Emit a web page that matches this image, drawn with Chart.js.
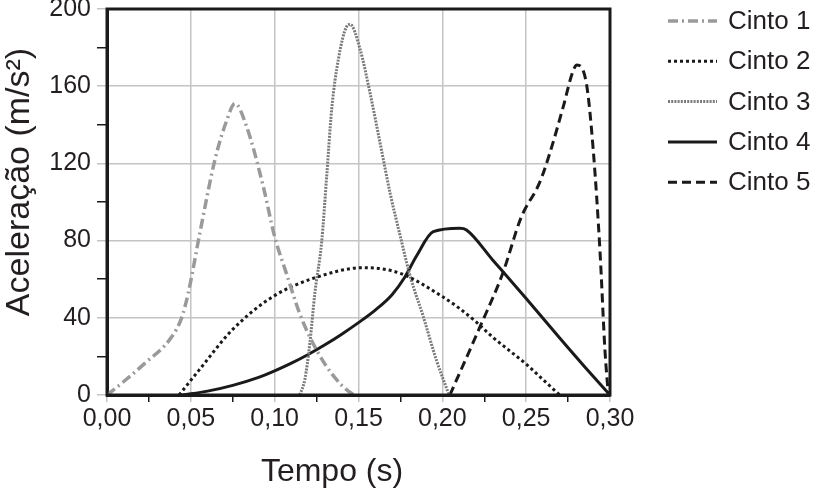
<!DOCTYPE html>
<html>
<head>
<meta charset="utf-8">
<script src="https://cdn.jsdelivr.net/npm/chart.js@4"></script>
<style>
  html,body{margin:0;padding:0;background:#fff;}
  #wrap{width:820px;height:499px;}
</style>
</head>
<body>
<div id="wrap"><canvas id="graficoCintos" width="820" height="499"></canvas></div>
<script>
// valores (tempo em s, aceleracao em m/s2)
const nomes=["Cinto 1","Cinto 2","Cinto 3","Cinto 4","Cinto 5"];

const cinto1X=[0,0.01,0.022,0.0385,0.0445,0.0485,0.0554,0.0644,0.0713,0.0763,0.0833,0.0932,0.100,0.107,0.115,0.121,0.13,0.14,0.147];
const cinto1Y=[0,7,16,30,40,53,84,122,142,151,139,108,82,63,42,30,16,5,0];

const cinto2X=[0.043,0.055,0.075,0.099,0.125,0.153,0.175,0.2,0.21,0.22,0.23,0.24,0.25,0.26,0.27];
const cinto2Y=[0,13,34,51,61,66,63,51,45,38,30,23,16,8,0];

const cinto3X=[0.115,0.118,0.121,0.124,0.128,0.131,0.134,0.138,0.143,0.145,0.151,0.157,0.163,0.169,0.175,0.181,0.1885,0.1965,0.204];
const cinto3Y=[0,8,27,53,79,113,148,174,191,192,179,156,130,104,82,61,41,18,0];

const cinto4X=[0.045,0.06,0.075,0.09,0.1,0.11,0.12,0.13,0.14,0.15,0.16,0.17,0.1776,0.1846,0.1946,0.2104,0.2144,0.23,0.25,0.27,0.285,0.3];
const cinto4Y=[0,2,5,9,12.5,16.5,21,26,31.5,37.5,44,52,61,72,84.6,86.4,85.5,70,50,29.5,14.5,0];

const cinto5X=[0.2045,0.2223,0.236,0.247,0.258,0.264,0.272,0.278,0.2803,0.286,0.290,0.294,0.297,0.299];
const cinto5Y=[0,35,63,92,110,125,149,168,171,161,127,75,23,0];

const ticksX=[0,0.05,0.10,0.15,0.20,0.25,0.30];
const ticksY=[0,40,80,120,160,200];

const fonte="'Liberation Sans', Arial, sans-serif";

function pontos(xs,ys){
  return xs.map((x,i)=>({x:x,y:ys[i]}));
}

function ehMaior(v,lista){
  return lista.some(t=>Math.abs(t-v)<1e-6);
}

// moldura, titulos dos eixos e legenda
const extras={
  id:"extras",
  afterDraw(chart){
    const ctx=chart.ctx;
    const a=chart.chartArea;
    ctx.save();
    ctx.strokeStyle="#1a1a1a";
    ctx.lineWidth=3;
    ctx.setLineDash([]);
    ctx.strokeRect(a.left,a.top,a.right-a.left,a.bottom-a.top);

    ctx.fillStyle="#231f20";
    ctx.font="32px "+fonte;
    ctx.textAlign="center";
    ctx.textBaseline="middle";
    ctx.fillText("Tempo (s)",332,472);

    ctx.save();
    ctx.translate(20,182);
    ctx.rotate(-Math.PI/2);
    ctx.font="34px "+fonte;
    ctx.fillText("Aceleração (m/s²)",0,0);
    ctx.restore();

    chart.data.datasets.forEach((ds,i)=>{
      const y=21+40.3*i;
      ctx.strokeStyle=ds.borderColor;
      ctx.lineWidth=ds.borderWidth;
      ctx.setLineDash(ds.borderDash||[]);
      ctx.beginPath();
      ctx.moveTo(668,y);
      ctx.lineTo(717,y);
      ctx.stroke();
      ctx.setLineDash([]);
      ctx.fillStyle="#231f20";
      ctx.font="26px "+fonte;
      ctx.textAlign="left";
      ctx.textBaseline="middle";
      ctx.fillText(ds.label,728,y+1);
    });
    ctx.restore();
  }
};

new Chart("graficoCintos",{
  type:"line",
  data:{
    datasets:[{
      label:nomes[0],
      data:pontos(cinto1X,cinto1Y),
      borderColor:"#9a9a9a",
      borderWidth:3.5,
      borderDash:[10,4,2,4]
    },{
      label:nomes[1],
      data:pontos(cinto2X,cinto2Y),
      borderColor:"#1a1a1a",
      borderWidth:3,
      borderDash:[3,3]
    },{
      label:nomes[2],
      data:pontos(cinto3X,cinto3Y),
      borderColor:"#7a7a7a",
      borderWidth:3,
      borderDash:[2,1.2]
    },{
      label:nomes[3],
      data:pontos(cinto4X,cinto4Y),
      borderColor:"#1a1a1a",
      borderWidth:3
    },{
      label:nomes[4],
      data:pontos(cinto5X,cinto5Y),
      borderColor:"#1a1a1a",
      borderWidth:3,
      borderDash:[9,5]
    }]
  },
  options:{
    responsive:false,
    animation:false,
    events:[],
    layout:{padding:{left:0,right:210,top:9,bottom:0}},
    elements:{
      point:{radius:0},
      line:{cubicInterpolationMode:"monotone",fill:false}
    },
    plugins:{
      legend:{display:false},
      tooltip:{enabled:false}
    },
    scales:{
      x:{
        type:"linear",
        min:0,
        max:0.3,
        afterFit(s){s.height=104;s.paddingLeft=0;s.paddingRight=0;},
        afterBuildTicks(s){
          s.ticks=[];
          for(let i=0;i<=12;i++) s.ticks.push({value:i*0.025});
        },
        ticks:{
          autoSkip:false,
          maxRotation:0,
          padding:2,
          color:"#231f20",
          font:{family:fonte,size:25},
          callback:(v)=>ehMaior(v,ticksX)?v.toFixed(2).replace(".",","):""
        },
        grid:{
          lineWidth:1.5,
          tickLength:7,
          color:(c)=>ehMaior(c.tick.value,ticksX)?"#c4c4c4":"rgba(0,0,0,0)",
          tickColor:(c)=>ehMaior(c.tick.value,ticksX)?"#c4c4c4":"#1a1a1a",
          tickWidth:1.5
        },
        border:{display:true,color:"#1a1a1a",width:3}
      },
      y:{
        min:0,
        max:200,
        afterFit(s){s.width=107;s.paddingTop=0;s.paddingBottom=0;},
        ticks:{
          stepSize:20,
          autoSkip:false,
          padding:6,
          color:"#231f20",
          font:{family:fonte,size:25},
          callback:(v)=>ehMaior(v,ticksY)?String(v):""
        },
        grid:{
          lineWidth:1.5,
          tickLength:10,
          color:(c)=>ehMaior(c.tick.value,ticksY)?"#c4c4c4":"rgba(0,0,0,0)",
          tickColor:(c)=>ehMaior(c.tick.value,ticksY)?"#c4c4c4":"#1a1a1a",
          tickWidth:1.5
        },
        border:{display:true,color:"#1a1a1a",width:3}
      }
    }
  },
  plugins:[extras]
});
</script>
</body>
</html>
